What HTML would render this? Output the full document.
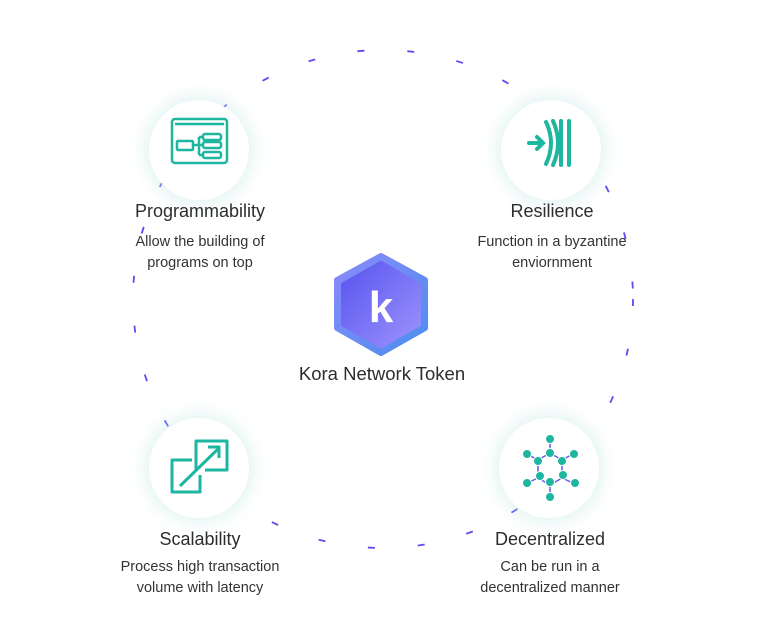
<!DOCTYPE html>
<html><head><style>
body{margin:0;width:782px;height:641px;background:#fff;position:relative;overflow:hidden;font-family:"Liberation Sans",sans-serif;color:#333}
.c{position:absolute;width:100px;height:100px;border-radius:50%;background:#fff;box-shadow:0 0 14px 6px rgba(200,235,230,.45)}
.t{position:absolute;text-align:center;width:240px;font-size:18px;color:#2d2d2d}
.d{position:absolute;text-align:center;width:260px;font-size:14.5px;line-height:21px;color:#333}
</style></head><body>
<svg width="782" height="641" style="position:absolute;left:0;top:0">
<ellipse cx="383" cy="299" rx="250" ry="249" fill="none" stroke="#5a4df0" stroke-width="1.8" stroke-dasharray="7 43"/>
</svg>
<div class="c" style="left:149px;top:100px"></div>
<div class="c" style="left:501px;top:100px"></div>
<div class="c" style="left:149px;top:418px"></div>
<div class="c" style="left:499px;top:418px"></div>
<svg width="782" height="641" style="position:absolute;left:0;top:0">
<g fill="none" stroke="#1db6a0" stroke-width="2.5" stroke-linejoin="round">
<rect x="172" y="119" width="55" height="44" rx="3"/>
<line x1="175" y1="124" x2="224" y2="124"/>
<rect x="177" y="141" width="16" height="9" rx="1"/>
<rect x="203" y="134" width="18" height="6" rx="2"/><rect x="203" y="142" width="18" height="6" rx="2"/><rect x="203" y="152" width="18" height="6" rx="2"/>
<path d="M193 145 H199 M199 137 V155 M199 137 H203 M199 155 H203 M199 145 H203"/>
</g>
<g stroke="#1db6a0" stroke-width="4" stroke-linecap="round" fill="none">
<path d="M529 143 H542 M537 137 L543 143 L537 149"/>
<path d="M546 122 Q556 143 546 164"/><path d="M553 121 Q563 143 553 165"/>
<line x1="561" y1="121" x2="561" y2="165"/><line x1="569" y1="121" x2="569" y2="165"/>
</g>
<g fill="none" stroke="#1db6a0" stroke-width="3" stroke-linejoin="round">
<path d="M192 460 H172 V492 H200 V475"/>
<path d="M196 470 V441 H227 V470 H205"/>
<line x1="180" y1="486" x2="219" y2="448"/><path d="M208 447 H219 V458"/>
</g>
<g>
<g stroke="#6a55f0" stroke-width="1.5" fill="none">
<polygon points="550,453 562,460 562,478 550,485 538,478 538,460"/>
<line x1="550" y1="440" x2="550" y2="453"/><line x1="550" y1="485" x2="550" y2="497"/>
<line x1="527" y1="454" x2="538" y2="460"/><line x1="573" y1="454" x2="562" y2="460"/>
<line x1="527" y1="483" x2="538" y2="478"/><line x1="573" y1="483" x2="562" y2="478"/>
</g>
<g fill="#1db6a0" stroke="#fff" stroke-width="1">
<circle cx="550" cy="439" r="4.5"/><circle cx="550" cy="453" r="4.5"/><circle cx="562" cy="461" r="4.5"/><circle cx="538" cy="461" r="4.5"/>
<circle cx="527" cy="454" r="4.5"/><circle cx="574" cy="454" r="4.5"/><circle cx="540" cy="476" r="4.5"/><circle cx="563" cy="475" r="4.5"/>
<circle cx="550" cy="482" r="4.5"/><circle cx="527" cy="483" r="4.5"/><circle cx="575" cy="483" r="4.5"/><circle cx="550" cy="497" r="4.5"/>
</g>
</g>
<defs><linearGradient id="g1" x1="0" y1="0" x2="1" y2="1"><stop offset="0" stop-color="#8a8af8"/><stop offset="1" stop-color="#4d8ef0"/></linearGradient>
<linearGradient id="g2" x1="0" y1="0" x2="1" y2="1"><stop offset="0" stop-color="#5a55f0"/><stop offset="1" stop-color="#9a92fb"/></linearGradient></defs>
<polygon points="381,256 425,280 425,328 381,353 337,328 337,280" fill="url(#g1)" stroke="url(#g1)" stroke-width="6" stroke-linejoin="round"/>
<polygon points="381,264 418,285 418,324 381,345 344,324 344,285" fill="url(#g2)" stroke="url(#g2)" stroke-width="6" stroke-linejoin="round"/>
<text x="381" y="322" text-anchor="middle" font-family="Liberation Sans,sans-serif" font-weight="bold" font-size="44" fill="#fff">k</text>
</svg>
<div class="t" style="left:80px;top:201px">Programmability</div>
<div class="d" style="left:70px;top:232px">Allow the building of<br>programs on top</div>
<div class="t" style="left:432px;top:201px">Resilience</div>
<div class="d" style="left:422px;top:232px">Function in a byzantine<br>enviornment</div>
<div class="t" style="left:262px;top:363px;font-size:18.5px">Kora Network Token</div>
<div class="t" style="left:80px;top:529px">Scalability</div>
<div class="d" style="left:70px;top:557px">Process high transaction<br>volume with latency</div>
<div class="t" style="left:430px;top:529px">Decentralized</div>
<div class="d" style="left:420px;top:557px">Can be run in a<br>decentralized manner</div>
</body></html>
